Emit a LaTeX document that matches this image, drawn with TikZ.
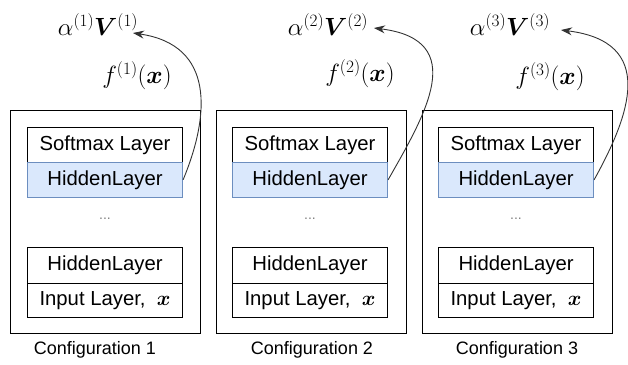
\documentclass[tikz,border=0pt]{standalone}
\usepackage{amsmath,bm}
\usepackage{fontspec}
\setmainfont{Liberation Sans}
\usetikzlibrary{arrows.meta}
\definecolor{hidfill}{HTML}{DAE8FC}
\definecolor{hiddraw}{HTML}{6C8EBF}
\definecolor{arr}{HTML}{333333}
\begin{document}
\begin{tikzpicture}[x=1pt,y=-1pt,
  outerbox/.style={draw, line width=1.2pt, minimum width=190pt, minimum height=223pt, anchor=north west, inner sep=0pt},
  layer/.style={draw, line width=1.1pt, minimum width=155pt, minimum height=35pt, anchor=north west, inner sep=0pt, font=\fontsize{20.3}{24}\selectfont},
  hidden/.style={layer, fill=hidfill, draw=hiddraw},
  dots/.style={font=\fontsize{14}{16}\selectfont, text=gray, inner sep=0pt},
  cfg/.style={font=\fontsize{18}{22}\selectfont, inner sep=0pt},
  mlab/.style={font=\fontsize{26}{30}\selectfont, inner sep=0pt},
  conn/.style={draw=arr, line width=0.9pt, -{Stealth[length=11pt,width=8pt]}}]
\useasboundingbox (0,0) rectangle (628,364);
\foreach \i/\ox/\ix/\cx in {1/10/27/95, 2/216/232/312, 3/422/438/517}{
  \node[outerbox] (o\i) at (\ox,110) {};
  \node[layer] (s\i) at (\ix,127) {Softmax Layer};
  \node[hidden, minimum height=34.5pt] (h\i) at (\ix,162) {HiddenLayer};
  \node[dots] (d\i) at (\ix+78,219) {...};
  \node[layer, minimum height=36pt] (b\i) at (\ix,247) {HiddenLayer};
  \node[layer, minimum height=34pt] (in\i) at (\ix,283) {Input Layer,\ \ $\bm{x}$};
  \node[cfg] (c\i) at (\cx,350) {Configuration \i};
}
\node[mlab] (a1) at (98,25) {$\alpha^{(1)}\bm{V}^{(1)}$};
\node[mlab] (f1) at (137,76) {$f^{(1)}(\bm{x})$};
\node[mlab] (a2) at (328,25) {$\alpha^{(2)}\bm{V}^{(2)}$};
\node[mlab] (f2) at (360,74) {$f^{(2)}(\bm{x})$};
\node[mlab] (a3) at (510,25) {$\alpha^{(3)}\bm{V}^{(3)}$};
\node[mlab] (f3) at (550,77) {$f^{(3)}(\bm{x})$};
\coordinate (t1) at (133,33);
\coordinate (t2) at (374,28);
\coordinate (t3) at (561,30);
\draw[conn] (h1.east) .. controls (210,115) and (215,45) .. (t1);
\draw[conn] (h2.east) .. controls (425,115) and (470,40) .. (t2);
\draw[conn] (h3.east) .. controls (630,115) and (657,42) .. (t3);
\end{tikzpicture}
\end{document}
